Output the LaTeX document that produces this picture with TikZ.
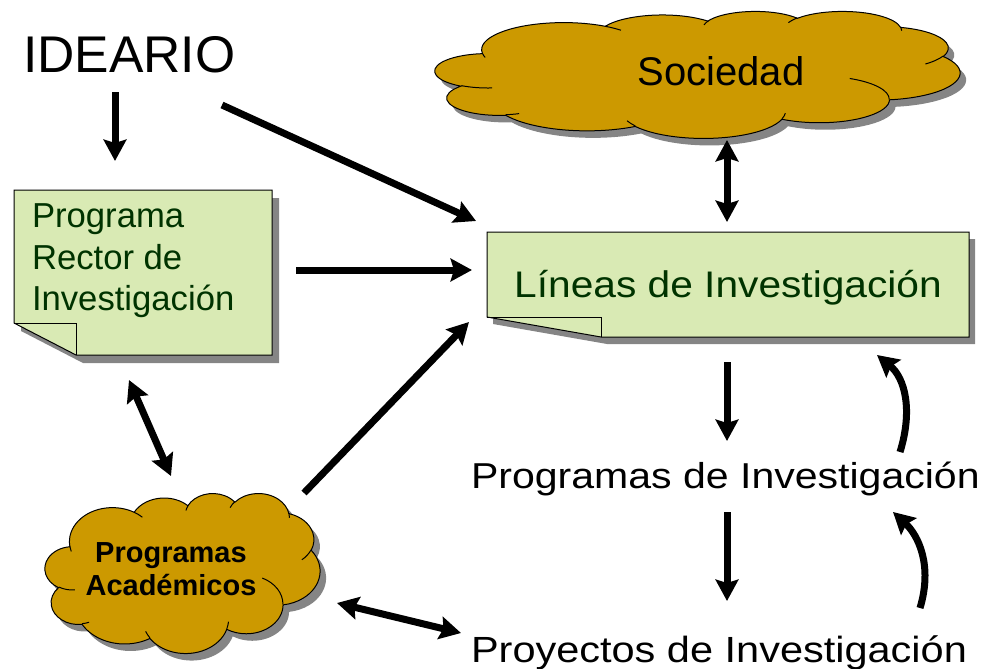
\documentclass[tikz,border=0pt]{standalone}
\usepackage{fontspec}
\setmainfont{Liberation Sans}
\newfontfamily\widefont[FakeStretch=1.14]{Liberation Sans}
\newfontfamily\midfont[FakeStretch=1.10]{Liberation Sans}
\usetikzlibrary{arrows.meta}
\definecolor{boxgreen}{HTML}{D9EAB4}
\definecolor{txtgreen}{HTML}{003300}
\definecolor{cloudgold}{HTML}{CC9900}
\definecolor{shadowgray}{HTML}{858585}
% PowerPoint-like cloud outline in a 432 x 432 box (y downwards)
\newcommand\ppcloudpath{(39.00,143.70)
  arc[start angle=-187.75, delta angle=128.11, x radius=67.53, y radius=91.90]
  arc[start angle=-151.99, delta angle=106.49, x radius=53.33, y radius=72.67]
  arc[start angle=-153.46, delta angle=116.10, x radius=43.65, y radius=59.45]
  arc[start angle=-139.76, delta angle=129.57, x radius=48.57, y radius=65.95]
  arc[start angle=-74.80, delta angle=98.05, x radius=53.33, y radius=72.73]
  arc[start angle=-37.52, delta angle=119.38, x radius=67.75, y radius=92.20]
  arc[start angle=0.459, delta angle=121.53, x radius=57.85, y radius=78.67]
  arc[start angle=16.89, delta angle=129.26, x radius=67.52, y radius=92.15]
  arc[start angle=59.09, delta angle=91.00, x radius=77.20, y radius=105.43]
  arc[start angle=-276.71, delta angle=139.75, x radius=43.60, y radius=59.18]
  arc[start angle=-239.78, delta angle=143.92, x radius=43.45, y radius=59.45]
  -- cycle}
\newcommand\ppcloudinner{
  (46.93,261.77) arc[start angle=85.57, delta angle=34.65, x radius=43.45, y radius=59.45]
  (69.28,348.99) arc[start angle=68.19, delta angle=15.10, x radius=43.60, y radius=59.18]
  (164.78,390.90) arc[start angle=146.15, delta angle=12.26, x radius=67.52, y radius=92.15]
  (288.27,347.51) arc[start angle=4.75, delta angle=12.14, x radius=67.52, y radius=92.15]
  (341.29,229.54) arc[start angle=-64.02, delta angle=64.48, x radius=57.85, y radius=78.67]
  (417.98,153.54) arc[start angle=23.25, delta angle=26.46, x radius=53.33, y radius=72.73]
  (383.24,54.26) arc[start angle=-10.19, delta angle=11.01, x radius=48.57, y radius=65.95]
  (290.78,39.52) arc[start angle=-156.34, delta angle=16.58, x radius=48.57, y radius=65.95]
  (221.41,47.20) arc[start angle=-167.71, delta angle=14.25, x radius=43.65, y radius=59.45]
  (140.00,51.92) arc[start angle=-59.64, delta angle=13.90, x radius=67.53, y radius=91.90]
  (41.27,157.89) arc[start angle=163.19, delta angle=9.06, x radius=67.53, y radius=91.90]}
\tikzset{
  tipA/.tip={Stealth[length=16pt,width=17pt,inset=2.5pt]},
  bigarrow/.style={line width=5.25pt, -tipA},
  dblarrow/.style={line width=5.25pt, tipA-tipA},
  notebox/.style={fill=boxgreen, draw=black, line width=0.75pt, line join=miter},
  noteshadow/.style={fill=shadowgray},
  cloudshadow/.style={fill=shadowgray, xshift=4.5pt, yshift=-5.25pt},
  cloudbody/.style={fill=cloudgold, draw=black, line width=0.75pt},
  cloudlines/.style={draw=black, line width=0.75pt},
  plaintext/.style={inner sep=0pt, outer sep=0pt},
}
\begin{document}
\begin{tikzpicture}[x=0.75pt,y=-0.75pt]
\useasboundingbox (0,0) rectangle (982,668);

% Sociedad cloud
\begin{scope}[shift={(435,11)}, x=0.911458pt, y=-0.220486pt]
  \fill[cloudshadow] \ppcloudpath;
  \path[cloudbody] \ppcloudpath;
  \path[cloudlines] \ppcloudinner;
  \coordinate (socc) at (216,216);
\end{scope}
\node[plaintext, anchor=base, font=\fontsize{30}{36}\selectfont] (soc) at (721,85) {Sociedad};

% Programas Academicos cloud
\begin{scope}[shift={(45,493)}, x=0.477431pt, y=-0.277778pt]
  \fill[cloudshadow] \ppcloudpath;
  \path[cloudbody] \ppcloudpath;
  \path[cloudlines] \ppcloudinner;
  \coordinate (acadc) at (216,216);
\end{scope}
\node[plaintext, align=center, anchor=north, font=\fontsize{21.75}{24.75}\bfseries\selectfont] (acad) at (171,543) {Programas\\Académicos};

% note boxes
\fill[noteshadow] (21,198) -- (279,198) -- (279,363) -- (83,363) -- (21,331) -- cycle;
\draw[notebox] (14,190) -- (272,190) -- (272,355) -- (76,355) -- (14,323) -- cycle;
\draw[line width=0.75pt] (14,323) -- (76,323) -- (76,355);
\node[plaintext, anchor=north west, align=left, text=txtgreen, font=\fontsize{26}{31}\selectfont] (rector) at (32,204) {Programa\\Rector de\\Investigación};

\fill[noteshadow] (493,239) -- (975,239) -- (975,344) -- (607,344) -- (493,324) -- cycle;
\draw[notebox] (487,232) -- (969,232) -- (969,337) -- (601,337) -- (487,317) -- cycle;
\draw[line width=0.75pt] (487,317) -- (601,317) -- (601,337);
\node[plaintext, anchor=base, text=txtgreen, font=\fontsize{27.75}{33}\midfont] (lineas) at (728,297) {Líneas de Investigación};

% plain texts
\node[plaintext, anchor=base west, font=\fontsize{38.7}{46}\selectfont] (ideario) at (23,72) {IDEARIO};
\node[plaintext, anchor=base west, font=\fontsize{27}{32}\widefont] (progs) at (471,488) {Programas de Investigación};
\node[plaintext, anchor=base west, font=\fontsize{27.3}{32}\widefont] (proys) at (471,662) {Proyectos de Investigación};

% connector end points
\coordinate (a1s) at (115,92);   \coordinate (a1e) at (115,161);
\coordinate (a2s) at (222,105);  \coordinate (a2e) at (476,221);
\coordinate (a3s) at (296,270);  \coordinate (a3e) at (472,270);
\coordinate (a4s) at (304,493);  \coordinate (a4e) at (469,322);
\coordinate (a5s) at (129,380);  \coordinate (a5e) at (171,476);
\coordinate (a6s) at (337,603);  \coordinate (a6e) at (461,633);
\coordinate (a7s) at (727,140);  \coordinate (a7e) at (727,222);
\coordinate (a8s) at (727,362);  \coordinate (a8e) at (727,441);
\coordinate (a9s) at (727,512);  \coordinate (a9e) at (727,601);
\coordinate (c1s) at (900,452);  \coordinate (c1e) at (877,355);
\coordinate (c2s) at (920,608);  \coordinate (c2e) at (893,512);

\draw[bigarrow] (a1s) -- (a1e);
\draw[bigarrow] (a2s) -- (a2e);
\draw[bigarrow] (a3s) -- (a3e);
\draw[bigarrow] (a4s) -- (a4e);
\draw[dblarrow] (a5s) -- (a5e);
\draw[dblarrow] (a6s) -- (a6e);
\draw[dblarrow] (a7s) -- (a7e);
\draw[bigarrow] (a8s) -- (a8e);
\draw[bigarrow] (a9s) -- (a9e);
\draw[bigarrow] (c1s) .. controls (913,410) and (905,378) .. (c1e);
\draw[bigarrow] (c2s) .. controls (933,565) and (918,535) .. (c2e);
\end{tikzpicture}
\end{document}
